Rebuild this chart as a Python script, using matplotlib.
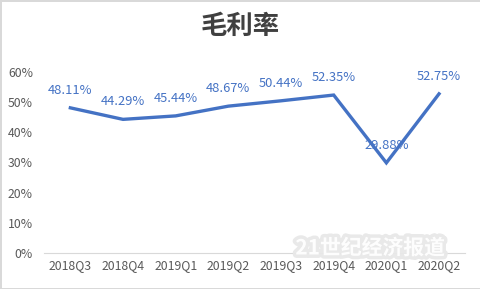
import matplotlib
matplotlib.use("Agg")
import matplotlib.pyplot as plt
import matplotlib.patheffects as pe
from matplotlib.ticker import FuncFormatter

plt.rcParams['font.family'] = ['Noto Sans CJK SC', 'DejaVu Sans']

quarters = ["2018Q3", "2018Q4", "2019Q1", "2019Q2", "2019Q3", "2019Q4", "2020Q1", "2020Q2"]
margin = [48.11, 44.29, 45.44, 48.67, 50.44, 52.35, 29.88, 52.75]
title = "毛利率"
watermark = "21世纪经济报道"

blue = "#4472C4"
gray = "#595959"

fig = plt.figure(figsize=(4.81, 2.89), dpi=100)
fig.patch.set_edgecolor("#d9d9d9")
fig.patch.set_linewidth(2)
ax = fig.add_axes([0.0915, 0.1246, 0.876, 0.6264])

x = list(range(len(quarters)))
ax.plot(x, margin, color=blue, linewidth=2.4, solid_joinstyle='miter')
for xi, v in zip(x, margin):
    ax.annotate(f"{v:.2f}%", (xi, v), xytext=(0, 12.5), textcoords="offset points",
                ha="center", va="center", color=blue, fontsize=9.3)

ax.set_xlim(-0.5, len(quarters) - 0.5)
ax.set_ylim(0, 60)
ax.set_yticks(range(0, 61, 10))
ax.yaxis.set_major_formatter(FuncFormatter(lambda v, p: f"{v:.0f}%"))
ax.set_xticks(x)
ax.set_xticklabels(quarters)
ax.tick_params(axis="both", length=0, colors=gray, labelsize=8.8)
ax.tick_params(axis="y", pad=8)
ax.tick_params(axis="x", pad=4)

for s in ["top", "right", "left"]:
    ax.spines[s].set_visible(False)
ax.spines["bottom"].set_color("#d9d9d9")

fig.text(0.5, 0.907, title, ha="center", va="center", fontsize=19,
         fontweight="bold", color="#404040")

fig.text(0.77, 0.142, watermark, ha="center", va="center", fontsize=15,
         fontweight="bold", color="white", alpha=0.95,
         path_effects=[pe.withStroke(linewidth=5, foreground="#e8e8e8")])

fig.savefig("out.png", dpi=100)
